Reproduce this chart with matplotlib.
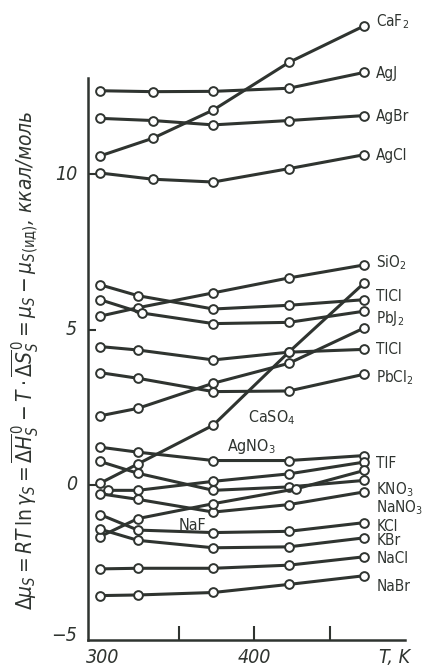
import matplotlib
matplotlib.use("Agg")
import matplotlib.pyplot as plt

plt.rcParams["mathtext.fontset"] = "custom"
plt.rcParams["mathtext.rm"] = "DejaVu Sans:stretch=condensed"
plt.rcParams["mathtext.it"] = "DejaVu Sans:italic:stretch=condensed"
plt.rcParams["mathtext.bf"] = "DejaVu Sans:bold:stretch=condensed"

# temperatures, K
T = [298, 323, 373, 423, 473]
T_ag = [298, 333, 373, 423, 473]
T_pbj2 = [298, 326, 373, 423, 473]
T_tlf = [303, 323, 373, 423, 473]
T_naf = [298, 323, 373, 428, 473]

# excess chemical potential, kcal/mol
CaF2 = [10.59, 11.16, 12.07, 13.60, 14.78]
AgJ = [12.69, 12.66, 12.67, 12.77, 13.28]
AgBr = [11.80, 11.73, 11.59, 11.73, 11.89]
AgCl = [10.04, 9.84, 9.75, 10.18, 10.63]
SiO2 = [5.43, 5.70, 6.18, 6.66, 7.08]
TlCl_1 = [6.44, 6.09, 5.66, 5.78, 5.96]
PbJ2 = [5.96, 5.53, 5.19, 5.23, 5.59]
other = [2.22, 2.46, 3.27, 3.91, 5.05]
TlCl_2 = [4.45, 4.34, 4.02, 4.27, 4.36]
PbCl2 = [3.61, 3.43, 3.00, 3.02, 3.56]
CaSO4 = [0.05, 0.67, 1.92, 4.27, 6.50]
AgNO3 = [1.21, 1.05, 0.78, 0.78, 0.94]
TlF = [-0.18, -0.18, 0.11, 0.35, 0.73]
KNO3 = [0.75, 0.37, -0.18, -0.07, 0.14]
NaNO3 = [-0.29, -0.47, -0.88, -0.64, -0.23]
NaF = [-1.67, -1.09, -0.61, -0.13, 0.46]
KCl = [-0.96, -1.46, -1.54, -1.50, -1.22]
KBr = [-1.43, -1.79, -2.03, -2.00, -1.71]
NaCl = [-2.71, -2.69, -2.69, -2.59, -2.32]
NaBr = [-3.57, -3.55, -3.47, -3.21, -2.93]

curves = [
    (T_ag, CaF2), (T_ag, AgJ), (T_ag, AgBr), (T_ag, AgCl),
    (T, SiO2), (T, TlCl_1), (T_pbj2, PbJ2), (T, other), (T, TlCl_2),
    (T, PbCl2), (T, CaSO4), (T, AgNO3), (T_tlf, TlF), (T, KNO3),
    (T, NaNO3), (T_naf, NaF), (T, KCl), (T, KBr), (T, NaCl), (T, NaBr),
]

# names on the right, with their vertical positions
right_names = [r"CaF$_2$", "AgJ", "AgBr", "AgCl", r"SiO$_2$", "TlCl", r"PbJ$_2$",
               "TlCl", r"PbCl$_2$", "TlF", r"KNO$_3$", r"NaNO$_3$", "KCl", "KBr",
               "NaCl", "NaBr"]
right_y = [14.9, 13.26, 11.85, 10.62, 7.14, 6.05, 5.37, 4.34, 3.44,
           0.70, -0.17, -0.74, -1.34, -1.80, -2.36, -3.29]

ink = "#2f3430"
lab = dict(color=ink, family="DejaVu Sans", stretch="condensed")

fig = plt.figure(figsize=(4.23, 6.68), dpi=100)
ax = fig.add_axes([88 / 423, 28 / 668, 317 / 423, 562 / 668])

for tx, vals in curves:
    ax.plot(tx, vals, color=ink, lw=2.2, marker="o", ms=6.3, mfc="white",
            mec=ink, mew=1.4, clip_on=False, zorder=3)

for name, yy in zip(right_names, right_y):
    ax.text(481, yy, name, fontsize=11, va="center", ha="left", **lab)

ax.text(396, 2.15, r"CaSO$_4$", fontsize=11.5, va="center", **lab)
ax.text(382, 1.22, r"AgNO$_3$", fontsize=11.5, va="center", **lab)
ax.text(350, -1.32, "NaF", fontsize=11.5, va="center", **lab)

ax.set_xlim(290, 500)
ax.set_ylim(-5, 13.1)

for s in ["top", "right"]:
    ax.spines[s].set_visible(False)
for s in ["left", "bottom"]:
    ax.spines[s].set_color(ink)
    ax.spines[s].set_linewidth(1.8)

ax.set_xticks([350, 400, 450])
ax.set_xticklabels([])
ax.tick_params(axis="x", direction="in", length=10, width=1.5, color=ink)
ax.set_yticks([0, 5, 10])
ax.set_yticklabels([])
ax.tick_params(axis="y", direction="in", length=6, width=1.5, color=ink)

tick_font = dict(fontsize=14, style="italic", **lab)
for val, txt in [(10, "10"), (5, "5"), (0, "0"), (-4.85, "\u22125")]:
    ax.text(-0.035, val, txt, transform=ax.get_yaxis_transform(),
            ha="right", va="center", **tick_font)
for val, txt in [(300, "300"), (400, "400"), (493, "T, K")]:
    ax.text(val, -0.015, txt, transform=ax.get_xaxis_transform(),
            ha="center", va="top", **tick_font)

ylabel = (r"$\Delta\mu_S = RT\,\ln\gamma_S = \overline{\Delta H}{}^{\,0}_S - T\cdot"
          r"\overline{\Delta S}{}^{\,0}_S = \mu_S - \mu_{S(\mathrm{ид})}$, ккал/моль")
fig.text(25 / 423, 1 - 360 / 668, ylabel, rotation=90, ha="center", va="center",
         fontsize=15, style="italic", **lab)

fig.savefig("out.png", dpi=100, facecolor="white")
